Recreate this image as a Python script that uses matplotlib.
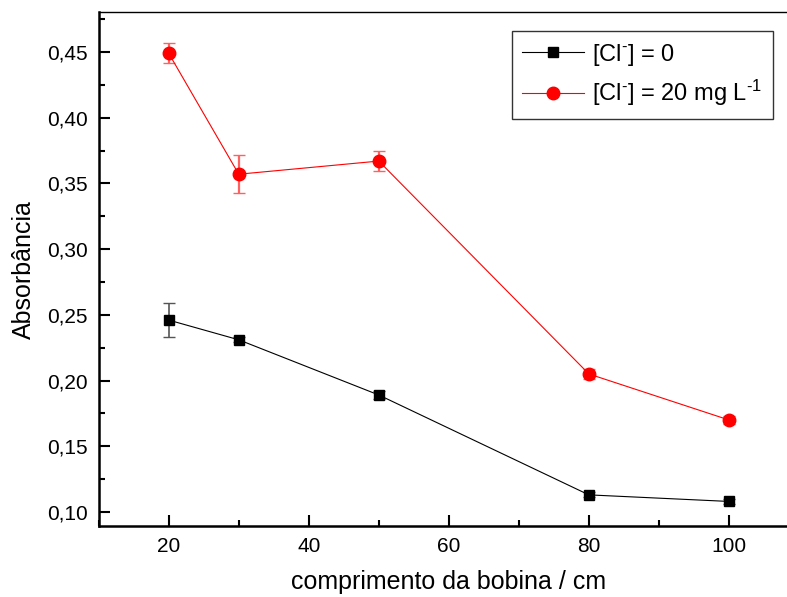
import numpy as np
import matplotlib
matplotlib.use('Agg')
import matplotlib.pyplot as plt
from matplotlib.lines import Line2D
from matplotlib.ticker import MultipleLocator, FuncFormatter

plt.rcParams['font.family'] = ['Liberation Sans', 'DejaVu Sans']
plt.rcParams['mathtext.fontset'] = 'custom'
plt.rcParams['mathtext.rm'] = 'Liberation Sans'
plt.rcParams['mathtext.it'] = 'Liberation Sans'

# comprimento da bobina (cm)
comprimento = [20, 30, 50, 80, 100]

# [Cl-] = 0
abs_0 = [0.246, 0.231, 0.189, 0.113, 0.108]
err_0 = [0.013, 0.002, 0.003, 0.002, 0.002]

# [Cl-] = 20 mg/L
abs_20 = [0.449, 0.357, 0.367, 0.205, 0.170]
err_20 = [0.0075, 0.0145, 0.0076, 0.004, 0.003]

labels = ['[Cl$^{\\text{-}}$] = 0', '[Cl$^{\\text{-}}$] = 20 mg L$^{\\text{-1}}$']

fig = plt.figure(figsize=(7.87, 5.97), dpi=100)
ax = fig.add_axes([0.1254, 0.1189, 0.8898, 0.8605])

ax.errorbar(comprimento, abs_0, yerr=err_0, color='black', marker='s',
            markersize=7.5, linewidth=0.8, elinewidth=1.2, capsize=4,
            ecolor='#555555', zorder=3)
ax.errorbar(comprimento, abs_20, yerr=err_20, color='red', marker='o',
            markersize=9, linewidth=0.8, elinewidth=1.6, capsize=4,
            ecolor='#ff6060', zorder=3)

ax.set_xlim(10, 110)
ax.set_ylim(0.0893, 0.4802)

ax.xaxis.set_major_locator(MultipleLocator(20))
ax.xaxis.set_minor_locator(MultipleLocator(10))
ax.yaxis.set_major_locator(MultipleLocator(0.05))
ax.yaxis.set_minor_locator(MultipleLocator(0.025))
ax.yaxis.set_major_formatter(FuncFormatter(lambda v, p: f'{v:.2f}'.replace('.', ',')))

ax.tick_params(which='both', direction='in', labelsize=15, width=1.5,
               top=False, right=False)
ax.tick_params(which='major', length=8, pad=8)
ax.tick_params(which='minor', length=4.5)

ax.spines['left'].set_linewidth(1.8)
ax.spines['bottom'].set_linewidth(1.8)
ax.spines['top'].set_linewidth(1.0)

ax.set_xlabel('comprimento da bobina / cm', fontsize=18, labelpad=10)
ax.set_ylabel('Absorbância', fontsize=18, labelpad=8)

handles = [
    Line2D([], [], color='black', marker='s', markersize=7.5, linewidth=0.8),
    Line2D([], [], color='red', marker='o', markersize=9, linewidth=0.8),
]
leg = ax.legend(handles, labels, loc='upper left', bbox_to_anchor=(0.590, 0.9636),
                fontsize=17, frameon=True, fancybox=False, edgecolor='black',
                borderpad=0.45, handlelength=2.6, handletextpad=0.35,
                labelspacing=0.45, borderaxespad=0)
leg.get_frame().set_linewidth(1.0)

fig.savefig('out.png', dpi=100)
